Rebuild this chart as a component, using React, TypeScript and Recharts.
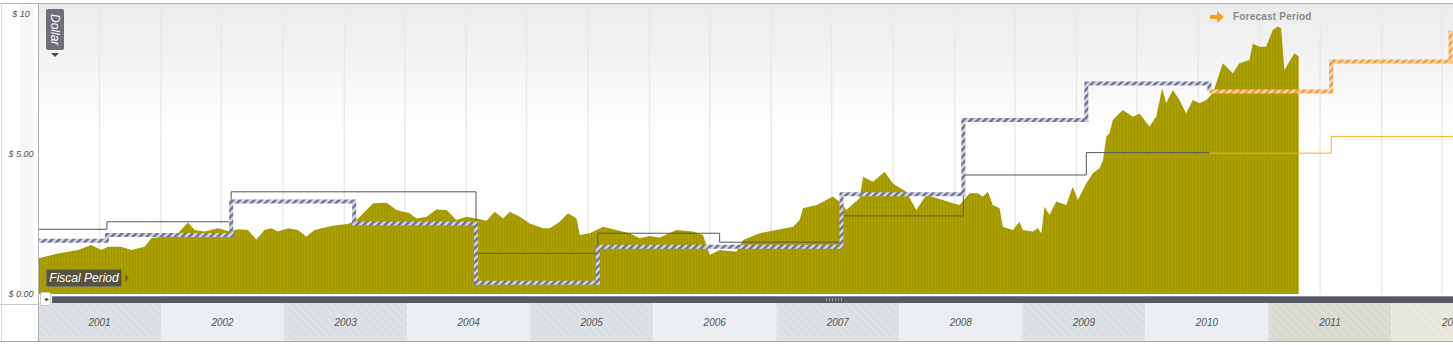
import React from "react";
import { Area, CartesianGrid, ComposedChart, Line, XAxis, YAxis } from "recharts";

// share price (fiscal year as decimal, dollars)
const priceYears = [
  2001.0, 2001.162, 2001.325, 2001.433, 2001.514, 2001.569, 2001.677, 2001.758, 2001.867, 2001.92,
  2002.029, 2002.137, 2002.219, 2002.273, 2002.354, 2002.462, 2002.557, 2002.625, 2002.706, 2002.774,
  2002.841, 2002.896, 2002.95, 2003.031, 2003.112, 2003.18, 2003.248, 2003.356, 2003.437, 2003.518,
  2003.589, 2003.724, 2003.833, 2003.914, 2004.022, 2004.076, 2004.158, 2004.239, 2004.32, 2004.401,
  2004.483, 2004.564, 2004.645, 2004.712, 2004.78, 2004.834, 2004.916, 2004.997, 2005.105, 2005.159,
  2005.24, 2005.308, 2005.376, 2005.403, 2005.484, 2005.592, 2005.701, 2005.809, 2005.89, 2005.972,
  2006.053, 2006.189, 2006.323, 2006.405, 2006.459, 2006.54, 2006.676, 2006.73, 2006.865, 2007.001,
  2007.136, 2007.19, 2007.217, 2007.326, 2007.407, 2007.461, 2007.529, 2007.569, 2007.678, 2007.705,
  2007.786, 2007.881, 2007.948, 2008.057, 2008.138, 2008.219, 2008.354, 2008.435, 2008.49, 2008.571,
  2008.638, 2008.679, 2008.72, 2008.76, 2008.815, 2008.842, 2008.923, 2008.977, 2009.004, 2009.085,
  2009.126, 2009.154, 2009.18, 2009.221, 2009.275, 2009.357, 2009.41, 2009.451, 2009.519, 2009.573,
  2009.627, 2009.656, 2009.682, 2009.708, 2009.735, 2009.816, 2009.898, 2009.952, 2010.033, 2010.088,
  2010.136, 2010.169, 2010.223, 2010.277, 2010.331, 2010.385, 2010.439, 2010.494, 2010.548, 2010.629,
  2010.71, 2010.764, 2010.846, 2010.873, 2010.927, 2010.981, 2011.035, 2011.076, 2011.103, 2011.13,
  2011.211, 2011.246,
];
const priceDollars = [
  1.27, 1.45, 1.57, 1.75, 1.57, 1.69, 1.69, 1.57, 1.69, 1.99,
  2.05, 2.17, 2.55, 2.29, 2.23, 2.35, 2.23, 2.31, 2.29, 1.95,
  2.29, 2.35, 2.23, 2.35, 2.29, 2.05, 2.29, 2.4, 2.46, 2.5,
  2.64, 3.24, 3.26, 3.0, 2.88, 2.7, 2.76, 3.02, 3.0, 2.64,
  2.76, 2.7, 2.62, 2.94, 2.7, 2.94, 2.76, 2.52, 2.35, 2.35,
  2.58, 2.88, 2.7, 2.11, 2.17, 2.4, 2.29, 2.17, 1.99, 2.07,
  2.02, 2.29, 2.23, 2.11, 1.39, 1.57, 1.51, 1.93, 2.17, 2.29,
  2.4, 2.64, 3.06, 3.18, 3.36, 3.48, 3.24, 3.0, 3.42, 4.19,
  4.01, 4.37, 3.95, 3.65, 3.0, 3.54, 3.36, 3.24, 3.18, 3.6,
  3.6, 3.48, 3.65, 3.18, 3.06, 2.4, 2.29, 2.58, 2.29, 2.23,
  2.35, 2.17, 3.12, 2.82, 3.3, 3.18, 3.83, 3.36, 3.95, 4.31,
  4.49, 4.79, 5.62, 5.74, 6.21, 6.57, 6.33, 6.45, 5.98, 6.33,
  7.35, 6.81, 7.29, 6.93, 6.45, 6.93, 6.81, 6.93, 7.17, 8.24,
  7.88, 8.24, 8.36, 8.95, 8.83, 8.83, 9.43, 9.55, 9.49, 8.0,
  8.6, 8.48,
];

// fiscal period breaks
const actualBreaks = [2001.0, 2001.56, 2002.57, 2003.57, 2004.56, 2005.55, 2006.54, 2007.53, 2008.52, 2009.52, 2010.52];
const boldActual = [1.9, 2.11, 3.3, 2.52, 0.4, 1.69, 1.69, 3.56, 6.21, 7.52, 7.23];
const thinActual = [2.31, 2.58, 3.65, 3.65, 1.45, 2.17, 1.85, 2.79, 4.25, 5.05, 5.05];

const boldForecastBreaks = [2010.52, 2011.51, 2012.48];
const boldForecast = [7.23, 8.3, 9.4];
const thinForecastBreaks = [2010.52, 2011.51, 2012.5];
const thinForecast = [5.03, 5.62, 5.62];

const yearLabels = [2001, 2002, 2003, 2004, 2005, 2006, 2007, 2008, 2009, 2010, 2011, 2012];
const firstForecastYear = 2011;
const gridTicks = [
  2001.5, 2002.0, 2002.49, 2002.99, 2003.49, 2003.98, 2004.48, 2004.97, 2005.47, 2005.97, 2006.46,
  2006.96, 2007.45, 2007.95, 2008.45, 2008.94, 2009.44, 2009.93, 2010.43, 2010.93, 2011.42, 2011.92, 2012.41,
];
const dollarTicks = [0, 5, 10];
const dollarLabels = ["$ 0.00", "$ 5.00", "$ 10"];

const zip = (xs: number[], ys: number[]) => xs.map((t, i) => ({ t, v: ys[i] }));
const priceData = zip(priceYears, priceDollars);
const boldActualData = zip(actualBreaks, boldActual);
const thinActualData = zip(actualBreaks, thinActual);
const boldForecastData = zip(boldForecastBreaks, boldForecast);
const thinForecastData = zip(thinForecastBreaks, thinForecast);

const W = 1453;
const H = 345;
const Y_AXIS_W = 38;
const X_MIN = 2001;
const X_MAX = 2012.5;
const PX_PER_YEAR = (W - Y_AXIS_W) / (X_MAX - X_MIN);
const FONT = "'Liberation Sans', Arial, sans-serif";

function DollarTick(props: any) {
  const { y, payload } = props;
  const label = dollarLabels[dollarTicks.indexOf(payload.value)];
  return (
    <text x={21} y={y + 3} textAnchor="middle" fontSize={9} fontStyle="italic" fill="#555" fontFamily={FONT}>
      {label}
    </text>
  );
}

function YearBand(props: any) {
  const { x, payload } = props;
  const yr = Math.round(payload.value - 0.5);
  const odd = yr % 2 === 1;
  const forecast = yr >= firstForecastYear;
  const fill = forecast ? (odd ? "#d9d9cf" : "#e7e7de") : odd ? "#dadfe3" : "#eaeef1";
  return (
    <g>
      <rect x={x - PX_PER_YEAR / 2} y={303} width={PX_PER_YEAR} height={38} fill={fill} />
      <rect x={x - PX_PER_YEAR / 2} y={303} width={PX_PER_YEAR} height={38} fill="url(#bandTex)" />
      <text x={x} y={326} textAnchor="middle" fontSize={10} fontStyle="italic" fill="#555" fontFamily={FONT}>
        {yr}
      </text>
    </g>
  );
}

// vertical grid lines through the x scale (fallback to the plot offset if no scale is passed)
function gridXs({ xAxis, offset }: any) {
  if (xAxis && typeof xAxis.scale === "function") return gridTicks.map((t) => xAxis.scale(t));
  return gridTicks.map((t) => offset.left + ((t - X_MIN) / (X_MAX - X_MIN)) * offset.width);
}

export default function App() {
  return (
    <div style={{ position: "relative", width: W, height: H, overflow: "hidden", background: "#fff", fontFamily: FONT }}>
      <style>{"body{margin:0}"}</style>
      <div style={{ position: "absolute", left: 20, top: 4, width: 13, height: 290, background: "#f6f6f6" }} />
      <ComposedChart width={W} height={H} margin={{ top: 4, right: 0, bottom: 0, left: 0 }} style={{ position: "absolute", left: 0, top: 0 }}>
        <defs>
          <linearGradient id="plotBg" x1="0" y1="0" x2="0" y2="1">
            <stop offset="0%" stopColor="#ebebeb" />
            <stop offset="45%" stopColor="#ffffff" />
            <stop offset="100%" stopColor="#ffffff" />
          </linearGradient>
          <pattern id="olive" patternUnits="userSpaceOnUse" width={3} height={10}>
            <rect width={3} height={10} fill="#ab9f00" />
            <rect width={1} height={10} fill="#a29600" />
          </pattern>
          <pattern id="hatchBlue" patternUnits="userSpaceOnUse" width={5} height={5} patternTransform="rotate(45)">
            <rect width={5} height={5} fill="#d9d9e4" />
            <rect width={2.5} height={5} fill="#6c7094" />
          </pattern>
          <pattern id="hatchOrange" patternUnits="userSpaceOnUse" width={5} height={5} patternTransform="rotate(45)">
            <rect width={5} height={5} fill="#fbd5a4" />
            <rect width={2.5} height={5} fill="#f09d45" />
          </pattern>
          <pattern id="bandTex" patternUnits="userSpaceOnUse" width={6} height={6} patternTransform="rotate(-45)">
            <rect width={1} height={6} fill="#ffffff" fillOpacity={0.25} />
          </pattern>
        </defs>
        <CartesianGrid
          xAxisId="time"
          horizontal={false}
          stroke="#e9e9e9"
          strokeWidth={1.5}
          fill="url(#plotBg)"
          verticalCoordinatesGenerator={gridXs}
        />
        <XAxis
          xAxisId="time"
          dataKey="t"
          type="number"
          domain={[X_MIN, X_MAX]}
          allowDataOverflow
          ticks={gridTicks}
          height={0}
          tick={false}
          tickLine={false}
          axisLine={false}
        />
        <XAxis
          xAxisId="years"
          dataKey="t"
          type="number"
          domain={[X_MIN, X_MAX]}
          allowDataOverflow
          ticks={yearLabels.map((y) => y + 0.5)}
          interval={0}
          height={51}
          tick={<YearBand />}
          tickLine={false}
          axisLine={false}
        />
        <YAxis
          type="number"
          domain={[0, 10.357]}
          allowDataOverflow
          ticks={dollarTicks}
          width={Y_AXIS_W}
          tick={<DollarTick />}
          tickLine={false}
          axisLine={false}
        />
        <Area
          xAxisId="time"
          data={priceData}
          dataKey="v"
          type="linear"
          stroke="none"
          fill="url(#olive)"
          fillOpacity={1}
          isAnimationActive={false}
          dot={false}
          activeDot={false}
        />
        <Line xAxisId="time" data={thinActualData} dataKey="v" type="stepAfter" stroke="#555" strokeWidth={1} dot={false} activeDot={false} isAnimationActive={false} />
        <Line xAxisId="time" data={thinForecastData} dataKey="v" type="stepAfter" stroke="#f2b21c" strokeWidth={1} dot={false} activeDot={false} isAnimationActive={false} />
        <Line xAxisId="time" data={boldActualData} dataKey="v" type="stepAfter" stroke="url(#hatchBlue)" strokeWidth={4} dot={false} activeDot={false} isAnimationActive={false} />
        <Line xAxisId="time" data={boldForecastData} dataKey="v" type="stepAfter" stroke="url(#hatchOrange)" strokeWidth={4} dot={false} activeDot={false} isAnimationActive={false} />
      </ComposedChart>

      {/* frame lines */}
      <div style={{ position: "absolute", left: 0, top: 3, width: W, height: 1, background: "#b4b4b4" }} />
      <div style={{ position: "absolute", left: 38, top: 3, width: 1, height: 338, background: "#b0b0b0" }} />
      <div style={{ position: "absolute", left: 1, top: 3, width: 1, height: 338, background: "#d8d8d8" }} />
      <div style={{ position: "absolute", left: 0, top: 304, width: 38, height: 1, background: "#c8c8c8" }} />
      <div style={{ position: "absolute", left: 0, top: 341, width: W, height: 1, background: "#a8a8a8" }} />

      {/* scroll bar */}
      <div style={{ position: "absolute", left: 39, top: 294, width: W - 39, height: 2, background: "#fff" }} />
      <div style={{ position: "absolute", left: 52, top: 296, width: W - 52, height: 7, background: "#565964", borderTop: "1px solid #8b8d96", boxSizing: "border-box" }} />
      <div style={{ position: "absolute", left: 826, top: 298, width: 18, height: 3, background: "repeating-linear-gradient(90deg,#9a9ca4 0 1px,transparent 1px 3px)" }} />
      <div style={{ position: "absolute", left: 40, top: 292, width: 11, height: 14, background: "#fff", border: "1px solid #c9c9c9", borderRadius: 2, boxSizing: "border-box", fontSize: 6, color: "#444", lineHeight: "12px", textAlign: "center", letterSpacing: -1 }}>
        ◂▸
      </div>

      {/* unit tab */}
      <div style={{ position: "absolute", left: 46, top: 9, width: 18, height: 41, background: "#6e7079", borderRadius: 2, color: "#fff", fontStyle: "italic", fontSize: 12, writingMode: "vertical-rl", display: "flex", alignItems: "center", justifyContent: "center" }}>
        Dollar
      </div>
      <svg style={{ position: "absolute", left: 51, top: 53 }} width={9} height={5}>
        <path d="M0 0 L8 0 L4 4 Z" fill="#4a4a4a" />
      </svg>

      {/* period tag */}
      <div style={{ position: "absolute", left: 46, top: 269, width: 76, height: 18, background: "#57533d", border: "1px solid #77735c", borderRadius: 2, boxSizing: "border-box", color: "#fff", fontStyle: "italic", fontSize: 12, lineHeight: "16px", textAlign: "center" }}>
        Fiscal Period
      </div>
      <svg style={{ position: "absolute", left: 125, top: 274 }} width={5} height={8}>
        <path d="M0 0 L4 4 L0 8 Z" fill="#6b6540" />
      </svg>

      {/* forecast legend */}
      <svg style={{ position: "absolute", left: 1210, top: 11 }} width={16} height={12}>
        <path d="M0 4 L7 4 L7 0 L14 6 L7 12 L7 8 L0 8 Z" fill="#f5a21e" />
      </svg>
      <div style={{ position: "absolute", left: 1233, top: 11, fontSize: 10, fontWeight: "bold", color: "#8a8a8a", letterSpacing: 0.2, whiteSpace: "nowrap" }}>
        Forecast Period
      </div>
    </div>
  );
}
